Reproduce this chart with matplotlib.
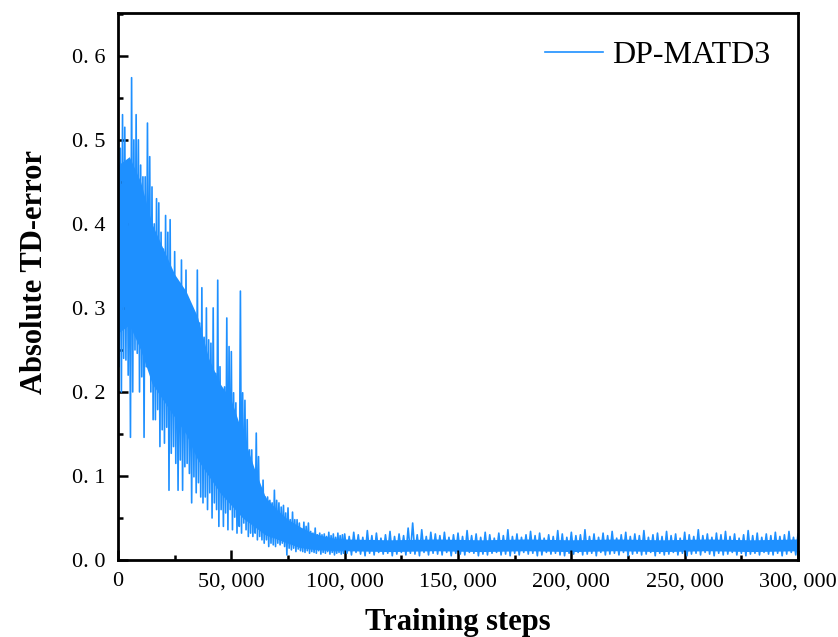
import numpy as np
import matplotlib
matplotlib.use("Agg")
import matplotlib.pyplot as plt
from matplotlib.ticker import MultipleLocator

plt.rcParams.update({
    "font.family": ["Liberation Serif", "DejaVu Serif"],
})

# ---- early phase, one bucket per 1,000 steps (0 .. 99,000) ----
steps_early = np.arange(0, 100000, 1000)
high_early = [
    0.574, 0.49, 0.53, 0.515, 0.47, 0.44, 0.574, 0.50, 0.53, 0.50,
    0.47, 0.456, 0.456, 0.52, 0.48, 0.444, 0.40, 0.43, 0.425, 0.39,
    0.37, 0.41, 0.39, 0.405, 0.325, 0.367, 0.318, 0.294, 0.357, 0.30,
    0.345, 0.294, 0.262, 0.292, 0.265, 0.345, 0.282, 0.324, 0.265, 0.30,
    0.262, 0.258, 0.30, 0.222, 0.333, 0.23, 0.182, 0.206, 0.288, 0.254,
    0.248, 0.199, 0.187, 0.143, 0.32, 0.199, 0.19, 0.167, 0.131, 0.131,
    0.087, 0.151, 0.123, 0.083, 0.095, 0.075, 0.075, 0.071, 0.068, 0.083,
    0.071, 0.068, 0.063, 0.065, 0.056, 0.062, 0.048, 0.057, 0.048, 0.048,
    0.044, 0.036, 0.045, 0.040, 0.044, 0.034, 0.032, 0.038, 0.030, 0.032,
    0.030, 0.031, 0.028, 0.033, 0.029, 0.031, 0.027, 0.032, 0.029, 0.030,
]
low_early = [
    0.23, 0.20, 0.24, 0.238, 0.22, 0.146, 0.20, 0.25, 0.246, 0.20,
    0.218, 0.146, 0.23, 0.234, 0.20, 0.167, 0.167, 0.179, 0.135, 0.155,
    0.139, 0.158, 0.083, 0.127, 0.135, 0.115, 0.083, 0.119, 0.083, 0.111,
    0.115, 0.103, 0.068, 0.099, 0.080, 0.092, 0.075, 0.068, 0.075, 0.060,
    0.080, 0.050, 0.068, 0.060, 0.040, 0.060, 0.040, 0.056, 0.036, 0.060,
    0.036, 0.051, 0.032, 0.040, 0.032, 0.044, 0.036, 0.028, 0.032, 0.028,
    0.032, 0.024, 0.028, 0.024, 0.020, 0.024, 0.016, 0.020, 0.018, 0.016,
    0.020, 0.018, 0.020, 0.016, 0.006, 0.014, 0.012, 0.014, 0.010, 0.013,
    0.011, 0.010, 0.009, 0.011, 0.008, 0.010, 0.009, 0.008, 0.011, 0.007,
    0.009, 0.008, 0.010, 0.007, 0.009, 0.006, 0.008, 0.009, 0.007, 0.008,
]

# ---- converged phase, one bucket per 2,000 steps (100,000 .. 300,000) ----
steps_late = np.arange(100000, 300001, 2000)
high_late = [
    0.031, 0.028, 0.033, 0.030, 0.027, 0.035, 0.029, 0.032, 0.026, 0.030,
    0.034, 0.028, 0.031, 0.029, 0.038, 0.044, 0.030, 0.036, 0.028, 0.033,
    0.031, 0.029, 0.033, 0.027, 0.030, 0.032, 0.028, 0.035, 0.029, 0.031,
    0.027, 0.033, 0.030, 0.026, 0.032, 0.029, 0.036, 0.028, 0.031, 0.027,
    0.030, 0.034, 0.029, 0.032, 0.026, 0.030, 0.028, 0.035, 0.031, 0.027,
    0.033, 0.029, 0.030, 0.036, 0.028, 0.031, 0.027, 0.032, 0.029, 0.034,
    0.026, 0.030, 0.033, 0.028, 0.031, 0.029, 0.035, 0.027, 0.030, 0.032,
    0.028, 0.034, 0.029, 0.031, 0.026, 0.033, 0.030, 0.028, 0.036, 0.029,
    0.031, 0.027, 0.032, 0.030, 0.034, 0.028, 0.031, 0.026, 0.030, 0.035,
    0.029, 0.032, 0.027, 0.031, 0.029, 0.033, 0.028, 0.030, 0.034, 0.027,
    0.031,
]
low_late = [
    0.008, 0.006, 0.009, 0.007, 0.005, 0.008, 0.006, 0.009, 0.007, 0.008,
    0.005, 0.007, 0.009, 0.006, 0.008, 0.007, 0.005, 0.009, 0.006, 0.008,
    0.007, 0.006, 0.009, 0.005, 0.008, 0.007, 0.006, 0.009, 0.008, 0.005,
    0.007, 0.006, 0.008, 0.009, 0.006, 0.007, 0.005, 0.008, 0.006, 0.009,
    0.007, 0.008, 0.005, 0.006, 0.009, 0.007, 0.008, 0.006, 0.005, 0.008,
    0.007, 0.009, 0.006, 0.007, 0.008, 0.005, 0.009, 0.006, 0.007, 0.008,
    0.006, 0.009, 0.005, 0.007, 0.008, 0.006, 0.007, 0.009, 0.005, 0.008,
    0.006, 0.007, 0.009, 0.006, 0.008, 0.005, 0.007, 0.008, 0.006, 0.009,
    0.007, 0.005, 0.008, 0.006, 0.007, 0.009, 0.006, 0.008, 0.005, 0.007,
    0.008, 0.006, 0.009, 0.007, 0.006, 0.008, 0.005, 0.007, 0.009, 0.006,
    0.008,
]

# dense core of the noise band
core_steps = [0, 5000, 10000, 15000, 20000, 25000, 30000, 35000, 40000, 45000,
              50000, 55000, 60000, 65000, 70000, 75000, 80000, 85000, 90000, 95000,
              100000, 120000, 140000, 160000, 180000, 200000, 220000, 240000,
              260000, 280000, 300000]
core_low = [0.27, 0.28, 0.25, 0.21, 0.19, 0.17, 0.15, 0.12, 0.10, 0.08,
            0.065, 0.05, 0.04, 0.03, 0.025, 0.02, 0.015, 0.013, 0.012, 0.011,
            0.011, 0.010, 0.011, 0.010, 0.011, 0.010, 0.011, 0.010,
            0.011, 0.010, 0.011]
core_high = [0.47, 0.48, 0.45, 0.40, 0.37, 0.34, 0.32, 0.29, 0.24, 0.21,
             0.19, 0.15, 0.11, 0.075, 0.06, 0.048, 0.04, 0.033, 0.029, 0.026,
             0.025, 0.024, 0.025, 0.024, 0.025, 0.024, 0.025, 0.024,
             0.025, 0.024, 0.025]

x_ticks = [0, 50000, 100000, 150000, 200000, 250000, 300000]
x_tick_labels = ["0", "50, 000", "100, 000", "150, 000", "200, 000", "250, 000", "300, 000"]
y_ticks = [0.0, 0.1, 0.2, 0.3, 0.4, 0.5, 0.6]
y_tick_labels = ["0. 0", "0. 1", "0. 2", "0. 3", "0. 4", "0. 5", "0. 6"]


def swing(steps, high, low, half):
    # peak then trough inside every bucket
    xs = np.empty(2 * len(steps))
    ys = np.empty(2 * len(steps))
    xs[0::2] = steps
    xs[1::2] = steps + half
    ys[0::2] = high
    ys[1::2] = low
    return xs, ys


xe, ye = swing(steps_early, high_early, low_early, 500)
xl, yl = swing(steps_late, high_late, low_late, 1000)
x = np.concatenate([xe, xl])
y = np.concatenate([ye, yl])

color = "#1E90FF"
fig = plt.figure(figsize=(8.38, 6.37), dpi=100)
ax = fig.add_axes([0.1408, 0.1209, 0.8115, 0.8587])

ax.fill_between(core_steps, core_low, core_high, color=color, linewidth=0)
ax.plot(x, y, color=color, linewidth=1.2, label="DP-MATD3")

ax.set_xlim(0, 300000)
ax.set_ylim(0, 0.651)
ax.set_xticks(x_ticks)
ax.set_xticklabels(x_tick_labels)
ax.set_yticks(y_ticks)
ax.set_yticklabels(y_tick_labels)
ax.xaxis.set_minor_locator(MultipleLocator(25000))
ax.yaxis.set_minor_locator(MultipleLocator(0.05))
ax.tick_params(which="both", direction="in", top=False, right=False,
               labelsize=16, width=1.8)
ax.tick_params(which="major", length=7, pad=9)
ax.tick_params(which="minor", length=3.5)
for s in ax.spines.values():
    s.set_linewidth(2)

ax.set_xlabel("Training steps", fontsize=22, fontweight="bold", labelpad=12)
ax.set_ylabel("Absolute TD-error", fontsize=22, fontweight="bold")
ax.yaxis.set_label_coords(-0.102, 0.527)

ax.legend(loc="upper right", frameon=False, fontsize=23, handlelength=1.8,
          handletextpad=0.3, borderaxespad=0.46)

fig.savefig("out.png", dpi=100)
